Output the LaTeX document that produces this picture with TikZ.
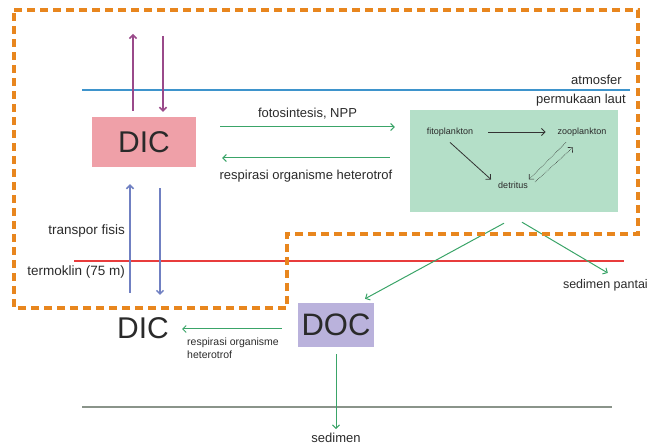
\documentclass[tikz,border=0pt]{standalone}
\usepackage{fontspec}
\setmainfont{Liberation Sans}
\usepackage[svgnames]{xcolor}
\usetikzlibrary{positioning, arrows.meta}

\definecolor{BorderOrange}{HTML}{E8861E}
\definecolor{AirPurple}{HTML}{9A4A8A}
\definecolor{MixBlue}{HTML}{7080C2}
\definecolor{FlowGreen}{HTML}{3AA468}
\definecolor{SurfaceBlue}{HTML}{3E94CC}
\definecolor{ThermoRed}{HTML}{E83C3C}
\definecolor{FloorGray}{HTML}{8A948A}
\definecolor{DicPink}{HTML}{EFA0A8}
\definecolor{PlanktonGreen}{HTML}{B4DFC8}
\definecolor{DocLilac}{HTML}{BAB2DC}
\definecolor{TextGray}{HTML}{2A2A2A}

\begin{document}
\begin{tikzpicture}[x=1pt,y=-1pt, >={Straight Barb[length=3.5pt,width=7pt]}]
  \tikzset{
    PoolStyle/.style={inner sep=0pt, text=TextGray, font=\fontsize{30}{32}\selectfont},
    LabelStyle/.style={inner sep=0pt, text=TextGray, font=\fontsize{13}{15}\selectfont},
    SmallStyle/.style={inner sep=0pt, text=TextGray, font=\fontsize{9}{10}\selectfont},
    AirStyle/.style={->, color=AirPurple, line width=1.5pt},
    MixStyle/.style={->, color=MixBlue, line width=1.5pt},
    FlowStyle/.style={->, color=FlowGreen, line width=1pt},
    FoodStyle/.style={->, color=black!80, line width=0.8pt},
    LoopStyle/.style={->, color=black!80, line width=0.6pt, densely dotted},
    LayerStyle/.style={line width=1.1pt}
  }
  \useasboundingbox (0,0) rectangle (649,446);

  % layers
  \draw[LayerStyle, color=SurfaceBlue] (82,90) -- (630,90);
  \draw[LayerStyle, color=ThermoRed] (74,261) -- (624,261);
  \draw[LayerStyle, color=FloorGray] (82,407) -- (612,407);
  \node[LabelStyle, anchor=east] (atmos) at (622,80) {atmosfer};
  \node[LabelStyle, anchor=east] (surface) at (626,100) {permukaan laut};
  \node[LabelStyle, font=\fontsize{13.5}{15}\selectfont, anchor=east] (thermo) at (125,272) {termoklin (75 m)};
  \node[LabelStyle, font=\fontsize{13.5}{15}\selectfont, anchor=east] (transport) at (125,231) {transpor fisis};

  % pools
  \node[PoolStyle, fill=DicPink, minimum width=104pt, minimum height=50pt] (DICup) at (144,142) {DIC};
  \node[fill=PlanktonGreen, minimum width=208pt, minimum height=102pt] (Plankton) at (514,161) {};
  \node[PoolStyle, fill=DocLilac, minimum width=76pt, minimum height=44pt,
        font=\fontsize{31}{33}\selectfont] (DOC) at (336,325) {DOC};
  \node[PoolStyle] (DIClow) at (143,328) {DIC};

  % food web
  \node[SmallStyle] (fito) at (450,132) {fitoplankton};
  \node[SmallStyle] (zoo) at (582,132) {zooplankton};
  \node[SmallStyle] (det) at (513,185) {detritus};
  \draw[FoodStyle, shorten <=15pt, shorten >=12pt] (fito) -- (zoo);
  \draw[FoodStyle] ([yshift=-6pt]fito.south) -- ([xshift=-7pt,yshift=2pt]det.north west);
  \draw[LoopStyle] ([xshift=-16pt,yshift=-6pt]zoo.south) -- ([xshift=1pt,yshift=2pt]det.north east);
  \draw[LoopStyle] ([xshift=7pt,yshift=3pt]det.east) -- ([xshift=-9pt,yshift=-11pt]zoo.south);

  % exchange
  \coordinate (airUp) at (133,34);
  \coordinate (airDown) at (163,36);
  \coordinate (mixUp) at (130,293);
  \coordinate (mixDown) at (160,295);
  \draw[AirStyle] ([xshift=-11pt,yshift=6pt]DICup.north) -- (airUp);
  \draw[AirStyle] (airDown) -- ([xshift=19pt,yshift=5pt]DICup.north);
  \draw[MixStyle] (mixUp) -- ([xshift=-14pt,yshift=-17pt]DICup.south);
  \draw[MixStyle] ([xshift=16pt,yshift=-21pt]DICup.south) -- (mixDown);

  % fluxes
  \draw[FlowStyle] ([xshift=24pt,yshift=15pt]DICup.east) -- ([xshift=-15pt,yshift=34pt]Plankton.west)
    node[LabelStyle, midway, above=7pt] {fotosintesis, NPP};
  \draw[FlowStyle] ([xshift=-20pt,yshift=3pt]Plankton.west) -- ([xshift=26pt,yshift=-16pt]DICup.east)
    node[LabelStyle, midway, below=12pt] {respirasi organisme heterotrof};
  \node[LabelStyle, font=\fontsize{12.5}{14}\selectfont, anchor=east] (pantai) at (648,285) {sedimen pantai};
  \node[LabelStyle] (sedimen) at (336,438) {sedimen};
  \draw[FlowStyle] ([xshift=-10pt,yshift=-11pt]Plankton.south) -- ([xshift=29pt,yshift=4pt]DOC.north);
  \draw[FlowStyle] ([xshift=8pt,yshift=-10pt]Plankton.south) -- ([xshift=45pt,yshift=6pt]pantai.north west);
  \draw[FlowStyle] ([xshift=-16pt,yshift=-4pt]DOC.west) -- ([xshift=13pt,yshift=-1pt]DIClow.east);
  \node[SmallStyle, font=\fontsize{10.5}{12.5}\selectfont, align=left, anchor=north west]
    (resp) at (187,338) {respirasi organisme\\heterotrof};
  \draw[FlowStyle, shorten >=4pt] ([yshift=-7pt]DOC.south) -- (sedimen.north);

  % mixed layer boundary
  \draw[BorderOrange, line width=4pt, dash pattern=on 8pt off 5pt]
    (14,10) -- (638,10) -- (638,234) -- (287,234) -- (287,308) -- (14,308) -- cycle;
\end{tikzpicture}
\end{document}
